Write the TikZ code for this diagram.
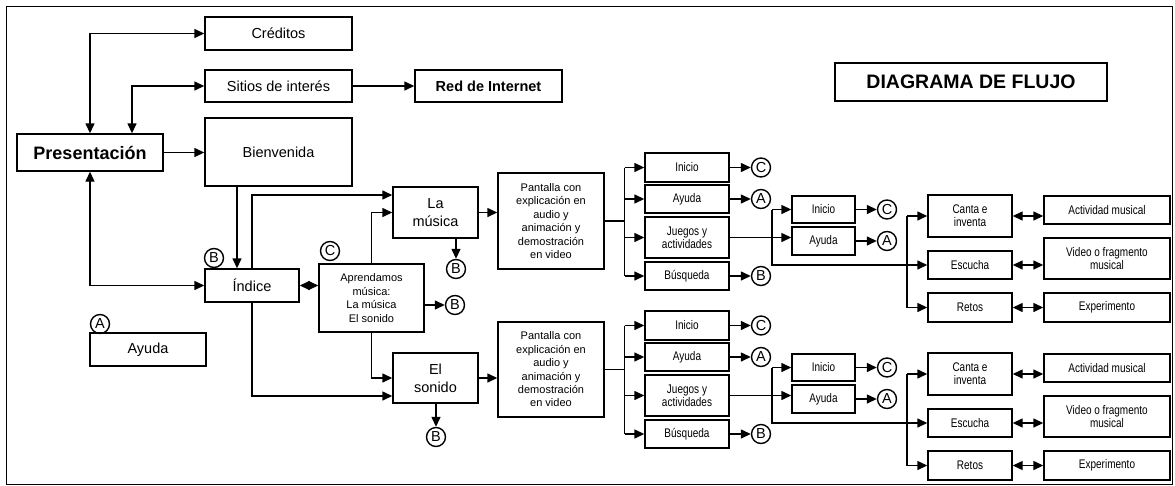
\documentclass[tikz,border=0pt]{standalone}
\usepackage{fontspec}
\setmainfont{Liberation Sans}
\newfontfamily\estrecha[FakeStretch=0.8]{Liberation Sans}
\usetikzlibrary{arrows.meta}

\begin{document}
\begin{tikzpicture}[x=1pt,y=-1pt,line width=1.4pt,
		>={Triangle[length=10pt,width=9pt]},
		caja/.style={draw,inner sep=0pt,align=center,font=\fontsize{14.5}{18}\selectfont},
		media/.style={caja,font=\fontsize{11}{13.4}\selectfont},
		chica/.style={caja,font=\estrecha\fontsize{12.5}{13.3}\selectfont},
		enlace/.style={draw,circle,inner sep=0pt,minimum size=19pt,font=\fontsize{14.5}{14}\selectfont}]
	\useasboundingbox (0,0) rectangle (1175,485);
	\draw[line width=1pt] (6,6) rectangle (1172.5,484);
	% parte izquierda
	\node[caja,minimum width=147pt,minimum height=33pt] (creditos) at (278.5,33.5) {Créditos};
	\node[caja,minimum width=147pt,minimum height=32pt] (sitios) at (278.5,86) {Sitios de interés};
	\node[caja,minimum width=147pt,minimum height=32pt,font=\bfseries\fontsize{14.5}{18}\selectfont] (red) at (488.5,86) {Red de Internet};
	\node[caja,minimum width=272pt,minimum height=38pt,font=\bfseries\fontsize{19.5}{22}\selectfont] (titulo) at (971,82) {DIAGRAMA DE FLUJO};
	\node[caja,minimum width=146pt,minimum height=37pt,font=\bfseries\fontsize{18}{20}\selectfont] (presentacion) at (90,152.5) {Presentación};
	\node[caja,minimum width=147pt,minimum height=68pt] (bienvenida) at (278.5,152) {Bienvenida};
	\node[caja,minimum width=94pt,minimum height=33pt] (indice) at (252,285.5) {Índice};
	\node[caja,minimum width=116pt,minimum height=33pt] (ayuda) at (148,349.5) {Ayuda};
	\node[media,minimum width=105pt,minimum height=68pt] (aprendamos) at (371.5,298) {Aprendamos\\música:\\La música\\El sonido};
	\node[caja,minimum width=85pt,minimum height=51pt] (musica) at (435.5,212.5) {La\\música};
	\node[caja,minimum width=85pt,minimum height=50pt] (sonido) at (435.5,378) {El\\sonido};
	\node[media,minimum width=106pt,minimum height=96pt] (pantalla1) at (551,221) {Pantalla con\\explicación en\\audio y\\animación y\\demostración\\en video};
	\node[media,minimum width=106pt,minimum height=95pt] (pantalla2) at (551,369.5) {Pantalla con\\explicación en\\audio y\\animación y\\demostración\\en video};
	\node[enlace] (bIndice) at (214,258) {B};
	\node[enlace] (aAyuda) at (100,324) {A};
	\node[enlace] (cAprendamos) at (330,251) {C};
	\node[enlace] (bAprendamos) at (455,305) {B};
	\node[enlace] (bMusica) at (456,269) {B};
	\node[enlace] (bSonido) at (436,437) {B};
	\coordinate (bajada) at ([xshift=-15pt]indice.north);

	\draw[<->] (presentacion.north) |- (creditos.west);
	\draw[<->] ([xshift=42pt]presentacion.north) |- (sitios.west);
	\draw[->] (presentacion.east) -- (presentacion.east -| bienvenida.west);
	\draw[<->] (presentacion.south) |- (indice.west);
	\draw[->] (sitios) -- (red);
	\draw[->] (bajada |- bienvenida.south) -- (bajada);
	\draw[->] (indice.north) |- ([yshift=17.5pt]musica.west);
	\draw[->] (aprendamos.north) |- (musica.west);
	\draw[<->] (indice.east) -- (indice.east -| aprendamos.west);
	\draw[->] (aprendamos.east |- bAprendamos) -- (bAprendamos);
	\draw[->] (aprendamos.south) |- (sonido.west);
	\draw[->] (indice.south) |- ([yshift=-18pt]sonido.west);
	\draw[->] (musica.south -| bMusica) -- (bMusica);
	\draw[->] (sonido.south -| bSonido) -- (bSonido);
	\draw[->] (musica.east) -- (musica.east -| pantalla1.west);
	\draw[->] (sonido.east) -- (sonido.east -| pantalla2.west);

	% las dos ramas de la derecha
	\foreach \g/\dy in {1/0,2/158} {
		\node[chica,minimum width=84pt,minimum height=29pt] (inicio\g) at (687,{167.5+\dy}) {Inicio};
		\node[chica,minimum width=84pt,minimum height=28pt] (ayuda\g) at (687,{199+\dy}) {Ayuda};
		\node[chica,minimum width=84pt,minimum height=41pt] (juegos\g) at (687,{237.5+\dy}) {Juegos y\\actividades};
		\node[chica,minimum width=84pt,minimum height=28pt] (busqueda\g) at (687,{276+\dy}) {Búsqueda};
		\node[enlace] (cInicio\g) at (761,{167.5+\dy}) {C};
		\node[enlace] (aAyuda\g) at (761,{199+\dy}) {A};
		\node[enlace] (bBusqueda\g) at (761,{276+\dy}) {B};
		\node[chica,minimum width=63pt,minimum height=27pt] (inicioJ\g) at (823.5,{209.5+\dy}) {Inicio};
		\node[chica,minimum width=63pt,minimum height=28pt] (ayudaJ\g) at (823.5,{241+\dy}) {Ayuda};
		\node[enlace] (cInicioJ\g) at (887,{209.5+\dy}) {C};
		\node[enlace] (aAyudaJ\g) at (887,{241+\dy}) {A};
		\node[chica,minimum width=84pt,minimum height=42pt] (canta\g) at (970,{216+\dy}) {Canta e\\inventa};
		\node[chica,minimum width=84pt,minimum height=28pt] (escucha\g) at (970,{265+\dy}) {Escucha};
		\node[chica,minimum width=84pt,minimum height=29pt] (retos\g) at (970,{307.5+\dy}) {Retos};
		\node[chica,minimum width=126pt,minimum height=28pt] (actividad\g) at (1107,{210+\dy}) {Actividad musical};
		\node[chica,minimum width=126pt,minimum height=41pt] (video\g) at (1107,{258.5+\dy}) {Video o fragmento\\musical};
		\node[chica,minimum width=126pt,minimum height=29pt] (experimento\g) at (1107,{307.5+\dy}) {Experimento};

		\draw (pantalla\g.east) -- ++(20,0) coordinate (rama\g);
		\draw (rama\g |- inicio\g.west) -- (rama\g |- busqueda\g.west);
		\foreach \n in {inicio,ayuda,juegos,busqueda}
			\draw[->] (rama\g |- \n\g.west) -- (\n\g.west);
		\draw[->] (inicio\g) -- (cInicio\g);
		\draw[->] (ayuda\g) -- (aAyuda\g);
		\draw[->] (busqueda\g) -- (bBusqueda\g);
		\draw[->] (juegos\g.east) -- (juegos\g.east -| ayudaJ\g.west);
		\coordinate (ramaJ\g) at (772,{209.5+\dy});
		\draw[->] (ramaJ\g) -- (inicioJ\g.west);
		\draw[->] (ramaJ\g) |- (escucha\g.west);
		\draw[->] (inicioJ\g) -- (cInicioJ\g);
		\draw[->] (ayudaJ\g) -- (aAyudaJ\g);
		\coordinate (ramaE\g) at (907,{216+\dy});
		\draw[->] (ramaE\g) -- (canta\g.west);
		\draw[->] (ramaE\g) |- (retos\g.west);
		\draw[<->] (canta\g.east) -- (canta\g.east -| actividad\g.west);
		\draw[<->] (escucha\g.east) -- (escucha\g.east -| video\g.west);
		\draw[<->] (retos\g.east) -- (retos\g.east -| experimento\g.west);
	}
\end{tikzpicture}
\end{document}
